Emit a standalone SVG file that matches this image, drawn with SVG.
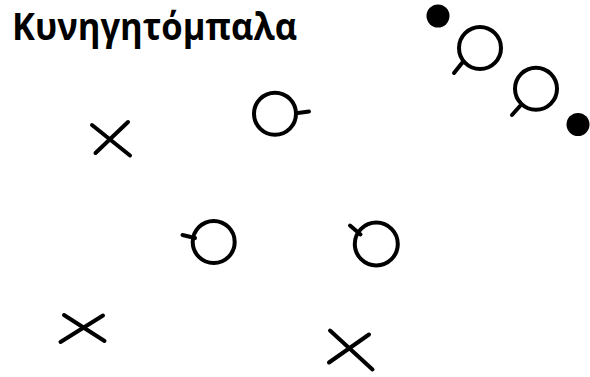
<svg xmlns="http://www.w3.org/2000/svg" width="590" height="377" viewBox="0 0 590 377">
<style>
.title{font-family:"Open Sans","Noto Sans","DejaVu Sans",sans-serif;font-weight:bold;font-size:37px;fill:#000}
.ring{fill:none;stroke:#000;stroke-width:4}
.ln{stroke:#000;stroke-width:4;stroke-linecap:round;fill:none}
.ball{fill:#000}
</style>
<rect width="590" height="377" fill="#fff"/>
<text class="title" x="12" y="39.5" textLength="285" lengthAdjust="spacingAndGlyphs">Κυνηγητόμπαλα</text>
<g id="ball1"><circle class="ball" cx="438" cy="16" r="11.5"/></g>
<g id="ball2"><circle class="ball" cx="578" cy="124.5" r="11.5"/></g>
<g id="player1"><circle class="ring" cx="480" cy="48" r="21"/><line class="ln" x1="462" y1="63" x2="454" y2="73"/></g>
<g id="player2"><circle class="ring" cx="536" cy="88.7" r="21"/><line class="ln" x1="520" y1="106" x2="512" y2="115"/></g>
<g id="player3"><circle class="ring" cx="275" cy="113.7" r="21"/><line class="ln" x1="296" y1="113.3" x2="309" y2="111.5"/></g>
<g id="player4"><circle class="ring" cx="213.7" cy="242" r="21"/><line class="ln" x1="182.5" y1="235" x2="195" y2="238"/></g>
<g id="player5"><circle class="ring" cx="376.3" cy="244" r="21.5"/><line class="ln" x1="350" y1="225.5" x2="360.5" y2="234.5"/></g>
<g id="x1"><line class="ln" x1="92" y1="125" x2="130" y2="155.5"/><line class="ln" x1="128" y1="122" x2="95.5" y2="153"/></g>
<g id="x2"><line class="ln" x1="64" y1="315" x2="104.5" y2="341"/><line class="ln" x1="103" y1="315.5" x2="60.5" y2="342"/></g>
<g id="x3"><line class="ln" x1="330" y1="330.5" x2="372.5" y2="369.5"/><line class="ln" x1="369" y1="334.5" x2="329" y2="362.5"/></g>
<g id="connectors"></g>
</svg>
